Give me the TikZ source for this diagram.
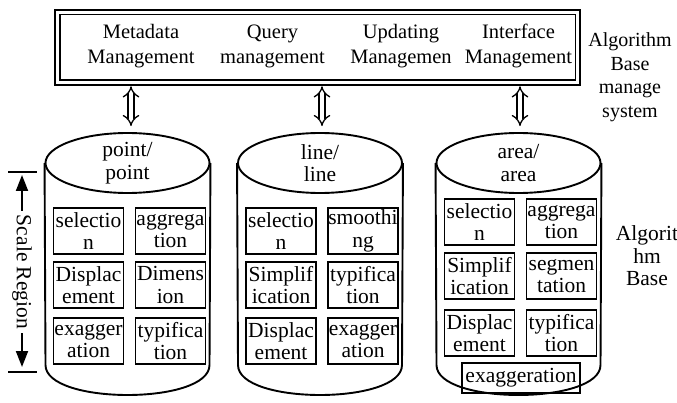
\documentclass[tikz,border=0pt]{standalone}
\usepackage{fontspec}
\setmainfont{Liberation Serif}
\usetikzlibrary{arrows.meta,shapes.geometric}
\newcommand{\txtsize}{\fontsize{21.5}{22.5}\selectfont}

\begin{document}
\begin{tikzpicture}[x=1pt, y=-1pt, line width=1.9pt,
  algbox/.style={draw, minimum width=70pt, minimum height=46pt, inner sep=0pt, align=center, font=\txtsize},
  cyltop/.style={draw, ellipse, minimum width=164pt, minimum height=60pt, inner sep=0pt, align=center, font=\txtsize},
  labeltext/.style={align=center, font=\txtsize},
  linkarrow/.style={double, double distance=4.5pt, line width=1.3pt, {Implies[scale=1.4]}-{Implies[scale=1.4]}},
  scalearrow/.style={-{Triangle[width=12pt,length=16pt]}, line width=1.9pt}] % {{{
\useasboundingbox (0,0) rectangle (677,403);
% Algorithm base manage system {{{
\node[draw, line width=2.6pt, minimum width=525pt, minimum height=75pt, inner sep=0pt] (ambs) at (317.5,47.5) {};
\draw[line width=1.6pt] ([shift={(6,6)}]ambs.north west) rectangle ([shift={(-6,-6)}]ambs.south east);
\node[labeltext, font=\fontsize{20.5}{25}\selectfont] (meta) at (141,46) {Metadata\\Management};
\node[labeltext, font=\fontsize{20.5}{25}\selectfont] (query) at (272.5,46) {Query\\management};
\node[labeltext, font=\fontsize{20.5}{25}\selectfont] (update) at (401,46) {Updating\\Managemen};
\node[labeltext, font=\fontsize{20.5}{25}\selectfont] (iface) at (518.5,46) {Interface\\Management};
\node[labeltext, font=\fontsize{20}{23.5}\selectfont] (ambslabel) at (630,77) {Algorithm\\Base\\manage\\system};
% }}}
\begin{scope}[shift={(127.5,0)}] % point/point {{{
\node[cyltop] (pt) at (0,163) {point/\\point};
\draw (pt.west) -- (-82,365) .. controls (-82,405) and (82,405) .. (82,365) -- (pt.east);
\foreach \name/\col/\row/\txt in {sel/-39/231/{selectio\\n}, agg/43/231/{aggrega\\tion},
  dis/-39/285/{Displac\\ement}, dim/43/285/{Dimens\\ion},
  exa/-39/341/{exagger\\ation}, typ/43/341/{typifica\\tion}} {
  \node[algbox] (pt-\name) at (\col,\row) {\txt};
}
\end{scope} % }}}
\begin{scope}[shift={(320,0)}] % line/line {{{
\node[cyltop] (ln) at (0,163) {line/\\line};
\draw (ln.west) -- (-82,365) .. controls (-82,405) and (82,405) .. (82,365) -- (ln.east);
\foreach \name/\col/\row/\txt in {sel/-39/231/{selectio\\n}, smo/43/231/{smoothi\\ng},
  sim/-39/285/{Simplif\\ication}, typ/43/285/{typifica\\tion},
  dis/-39/341/{Displac\\ement}, exa/43/341/{exagger\\ation}} {
  \node[algbox] (ln-\name) at (\col,\row) {\txt};
}
\end{scope} % }}}
\begin{scope}[shift={(518.5,0)}] % area/area {{{
\node[cyltop] (ar) at (0,163) {area/\\area};
\draw (ar.west) -- (-82,365) .. controls (-82,405) and (82,405) .. (82,365) -- (ar.east);
\foreach \name/\col/\row/\txt in {sel/-39/222/{selectio\\n}, agg/43/222/{aggrega\\tion},
  sim/-39/276/{Simplif\\ication}, seg/43/276/{segmen\\tation},
  dis/-39/333/{Displac\\ement}, typ/43/333/{typifica\\tion}} {
  \node[algbox] (ar-\name) at (\col,\row) {\txt};
}
\node[algbox, minimum width=118pt, minimum height=30pt] (ar-exa) at (2.5,378) {exaggeration};
\end{scope} % }}}
\node[labeltext] (ablabel) at (647,256) {Algorit\\hm\\Base};
% links
\draw[linkarrow] (ambs.south -| 131,0) -- ([xshift=3.5pt, yshift=6pt]pt.north);
\draw[linkarrow] (ambs.south -| 322,0) -- ([xshift=2pt, yshift=6pt]ln.north);
\draw[linkarrow] (ambs.south -| 520,0) -- ([xshift=1.5pt, yshift=6pt]ar.north);
% scale region
\node[labeltext, rotate=-90] (scale) at (22,272) {Scale Region};
\coordinate (scaletop) at (22,172);
\coordinate (scalebot) at (22,372);
\draw ([xshift=-14pt]scaletop) -- ([xshift=15pt]scaletop);
\draw ([xshift=-14pt]scalebot) -- ([xshift=15pt]scalebot);
\draw[scalearrow, shorten >=3pt] (scale.west) -- (scaletop);
\draw[scalearrow, shorten >=5pt] (scale.east) -- (scalebot);
\end{tikzpicture} % }}}
\end{document}
